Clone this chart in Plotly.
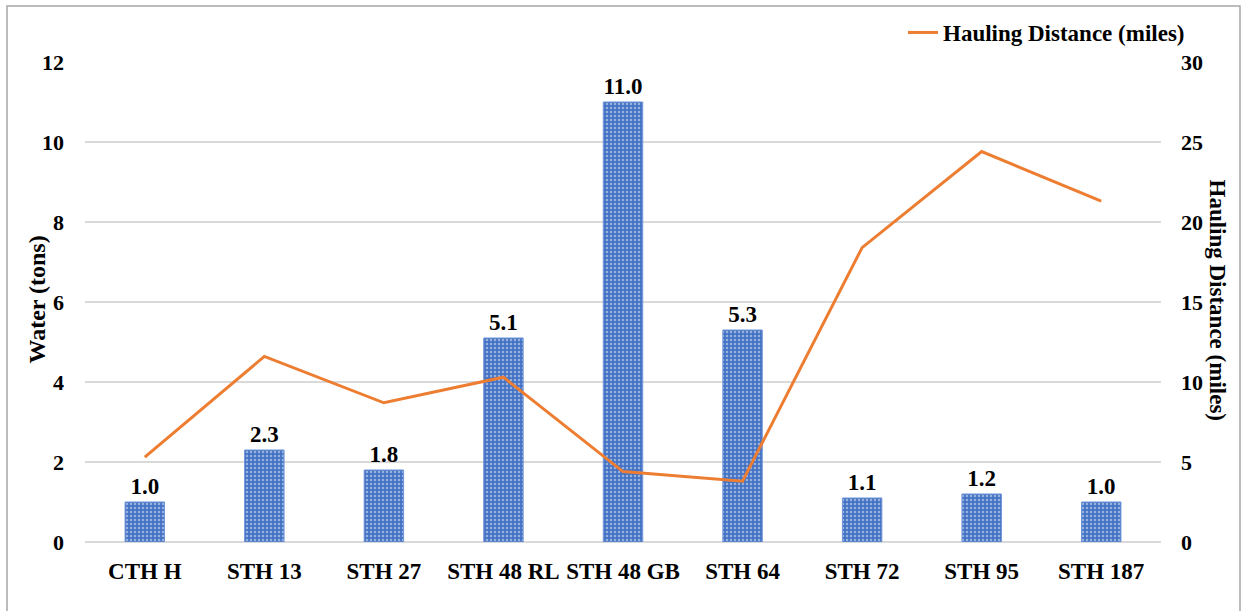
import plotly.graph_objects as go

sites = ["CTH H", "STH 13", "STH 27", "STH 48 RL", "STH 48 GB",
         "STH 64", "STH 72", "STH 95", "STH 187"]
water_tons = [1.0, 2.3, 1.8, 5.1, 11.0, 5.3, 1.1, 1.2, 1.0]
hauling_miles = [5.3, 11.6, 8.7, 10.3, 4.4, 3.8, 18.4, 24.4, 21.3]

W, H = 1243, 611
L, R, T, B = 85, 1161, 61, 542  # plot area in pixels
pw, ph = R - L, B - T


def px_x(x):
    return (x - L) / pw


def px_y(y):
    return (B - y) / ph


FONT = "Liberation Serif"
BLUE = "#4472C4"
ORANGE = "#ED7D31"
GRID = "#D9D9D9"

fig = go.Figure()

fig.add_trace(go.Bar(
    x=sites, y=water_tons, name="Water (tons)",
    marker=dict(color=BLUE, line=dict(color="#6F94D6", width=1),
                pattern=dict(shape=".", fgcolor="white", fgopacity=0.45,
                             size=4, solidity=0.3)),
    width=0.33,
    text=[f"{v:.1f}" for v in water_tons], textposition="outside",
    textfont=dict(family=FONT, size=23, color="black", weight="bold"),
    cliponaxis=False, showlegend=False,
))

fig.add_trace(go.Scatter(
    x=sites, y=hauling_miles, name="Hauling Distance (miles)",
    mode="lines", line=dict(color=ORANGE, width=3), yaxis="y2",
))

fig.update_layout(
    width=W, height=H,
    margin=dict(l=L, r=W - R, t=T, b=H - B),
    paper_bgcolor="white", plot_bgcolor="white",
    font=dict(family=FONT, size=22, color="black", weight="bold"),
    bargap=0.67,
    xaxis=dict(showgrid=False, showline=False, ticks="",
               tickfont=dict(size=23, weight="bold"), ticklabelstandoff=13),
    yaxis=dict(range=[0, 12], dtick=2, showgrid=True, gridcolor=GRID,
               gridwidth=1.5, zeroline=True, zerolinecolor=GRID,
               zerolinewidth=1.5, showline=False, ticks="",
               tickfont=dict(size=22, weight="bold"), ticklabelstandoff=20),
    yaxis2=dict(range=[0, 30], dtick=5, overlaying="y", side="right",
                showgrid=False, zeroline=False, showline=False, ticks="",
                tickfont=dict(size=22, weight="bold"), ticklabelstandoff=19),
    legend=dict(x=px_x(903), y=px_y(11), xanchor="left", yanchor="top",
                bgcolor="rgba(0,0,0,0)",
                font=dict(size=23, weight="bold")),
    annotations=[
        dict(text="Water (tons)", textangle=-90, xref="paper", yref="paper",
             x=px_x(37), y=px_y(299), xanchor="center", yanchor="middle",
             showarrow=False, font=dict(size=24, weight="bold")),
        dict(text="Hauling Distance (miles)", textangle=90, xref="paper",
             yref="paper", x=px_x(1217), y=px_y(300), xanchor="center",
             yanchor="middle", showarrow=False,
             font=dict(size=23, weight="bold")),
    ],
    shapes=[dict(type="rect", xref="paper", yref="paper",
                 x0=px_x(7), x1=px_x(1240), y0=px_y(640), y1=px_y(5),
                 line=dict(color="#A6A6A6", width=1.5), layer="below")],
)

fig.write_html("out.html")
